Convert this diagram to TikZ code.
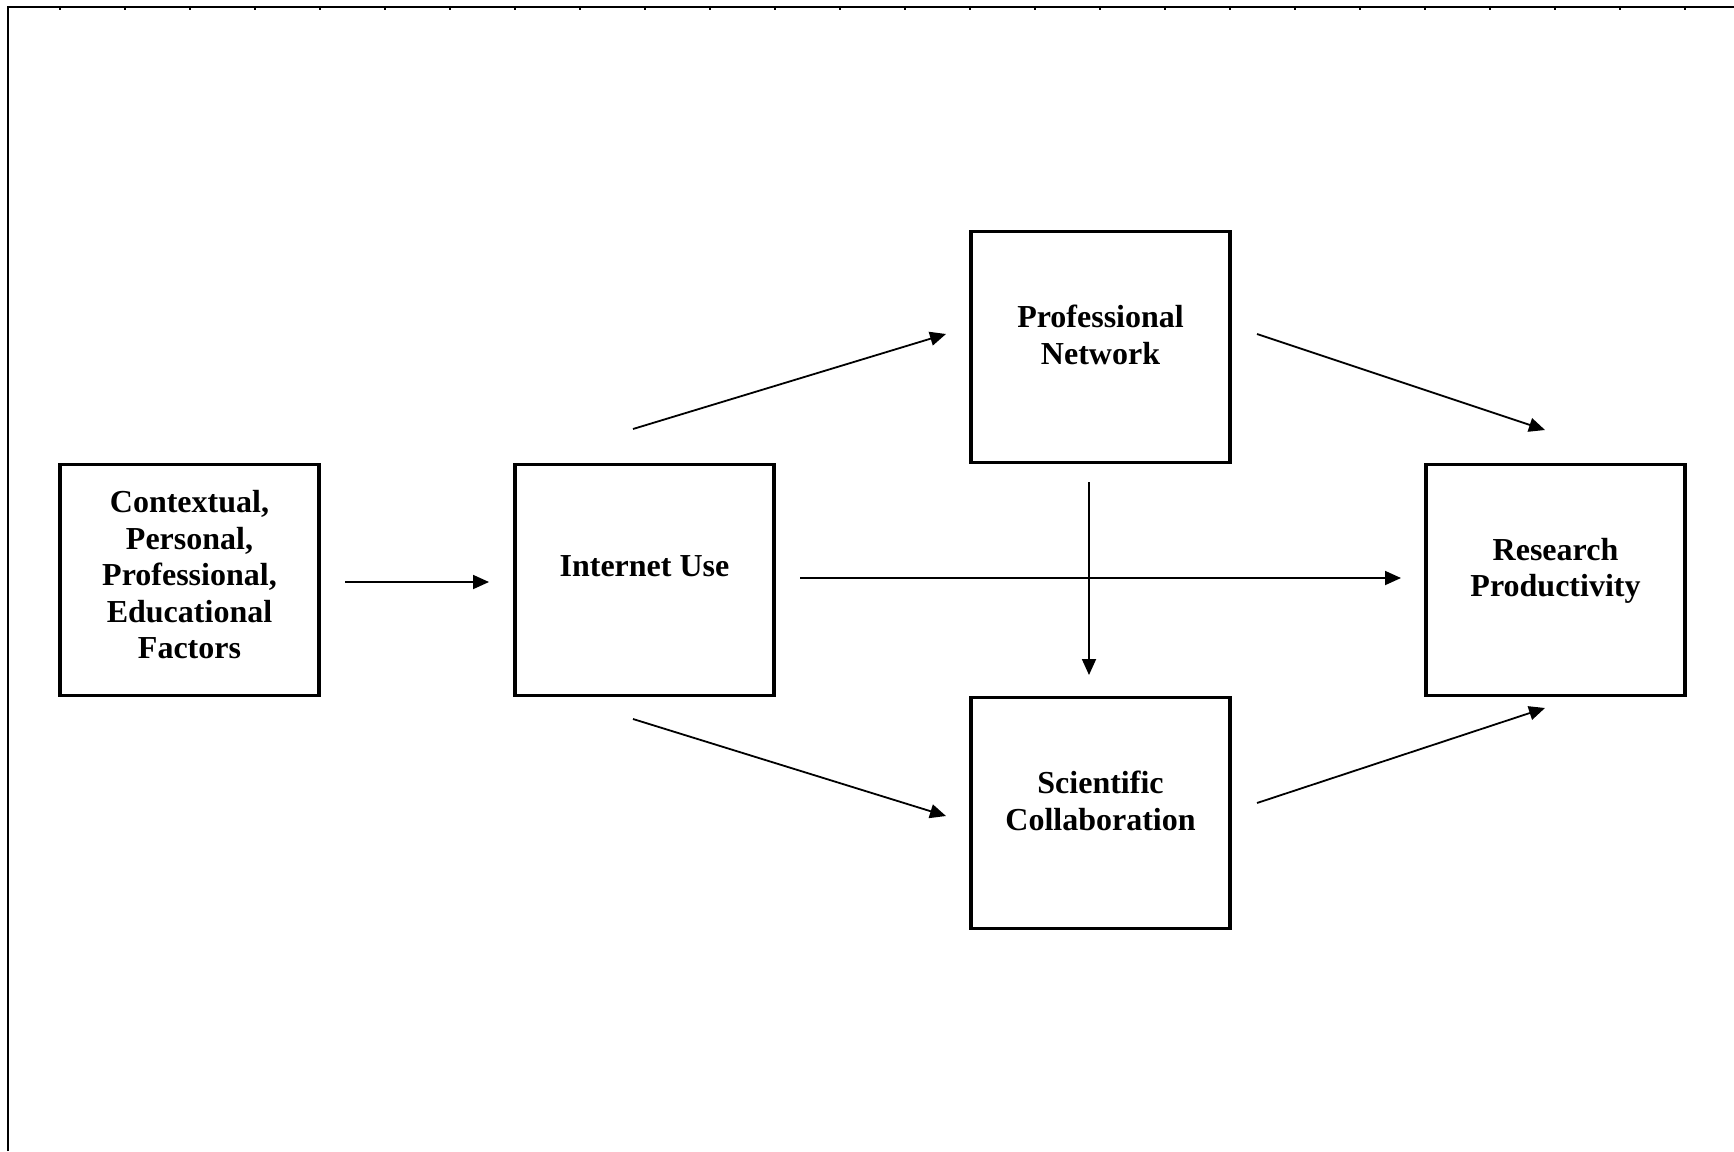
\documentclass[tikz,border=0pt]{standalone}
\usepackage{fontspec}
\setmainfont{Liberation Serif}
\usetikzlibrary{arrows.meta}
\begin{document}
\begin{tikzpicture}[x=1pt,y=-1pt,
  box/.style={draw,line width=3.4pt,minimum width=259pt,minimum height=231pt,inner sep=0pt},
  lbl/.style={align=center,font=\fontsize{32}{36.5}\selectfont\bfseries,inner sep=0pt},
  arr/.style={line width=1.8pt,-{Triangle[length=16pt,width=14pt]}},
  frame/.style={line width=2.8pt}]
\useasboundingbox (0,0) rectangle (1734,1151);
% frame
\draw[frame] (8,1151) -- (8,7) -- (1734,7);
\foreach \k in {0,...,25}{\draw[line width=2pt] (60+65*\k,7) -- (60+65*\k,10);}
% boxes
\node[box] (ctx) at (189.5,580) {};
\node[box] (inet) at (644.5,580) {};
\node[box] (pn) at (1100.5,347) {};
\node[box] (sc) at (1100.5,813) {};
\node[box] (rp) at (1555.5,580) {};
% labels
\node[lbl] (ctxt) at (189.5,575) {Contextual,\\Personal,\\Professional,\\Educational\\Factors};
\node[lbl] (inett) at (644.5,566) {Internet Use};
\node[lbl] (pnt) at (1100.5,335) {Professional\\Network};
\node[lbl] (sct) at (1100.5,801) {Scientific\\Collaboration};
\node[lbl] (rpt) at (1555.5,571) {Research\\Productivity};
% arrow end points
\coordinate (a1s) at (345,582);  \coordinate (a1e) at (489,582);
\coordinate (a2s) at (633,429);  \coordinate (a2e) at (946,334);
\coordinate (a3s) at (633,719);  \coordinate (a3e) at (946,816);
\coordinate (a4s) at (800,578);  \coordinate (a4e) at (1401,578);
\coordinate (a5s) at (1089,482); \coordinate (a5e) at (1089,675);
\coordinate (a6s) at (1257,334); \coordinate (a6e) at (1545,430);
\coordinate (a7s) at (1257,803); \coordinate (a7e) at (1545,708);
\draw[arr] (a1s) -- (a1e);
\draw[arr] (a2s) -- (a2e);
\draw[arr] (a3s) -- (a3e);
\draw[arr] (a4s) -- (a4e);
\draw[arr] (a5s) -- (a5e);
\draw[arr] (a6s) -- (a6e);
\draw[arr] (a7s) -- (a7e);
\end{tikzpicture}
\end{document}
